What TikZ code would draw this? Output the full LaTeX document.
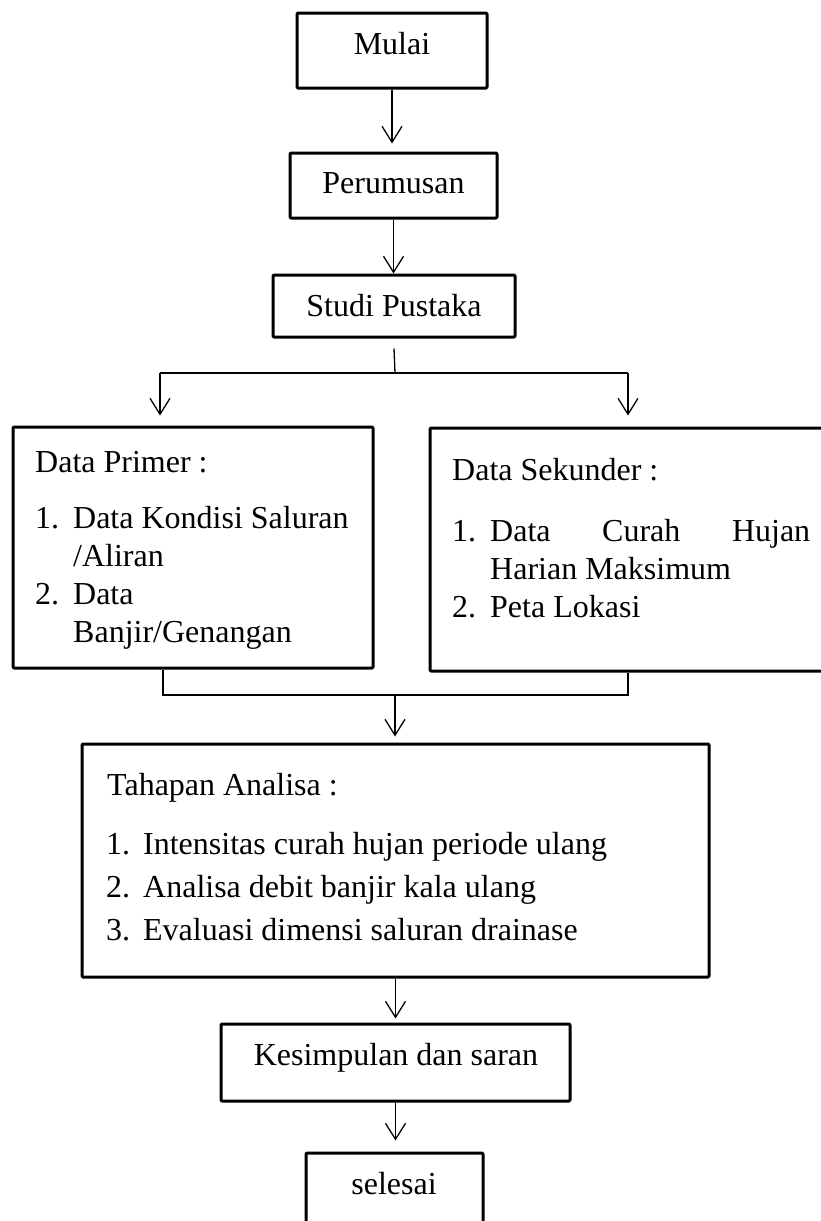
\documentclass[tikz,border=0pt]{standalone}
\usepackage{fontspec}
\setmainfont{Liberation Serif}
\usetikzlibrary{arrows.meta}
\newcommand{\numlab}[1]{\makebox[38pt][l]{#1}}
\begin{document}
\begin{tikzpicture}[x=1pt,y=-1pt,
  box/.style={draw, line width=3pt, rounded corners=1pt, inner sep=0pt, line join=round},
  conn/.style={line width=1.3pt},
  arr/.style={conn, -{Straight Barb[length=16pt,width=20pt]}},
  txt/.style={anchor=base west, inner sep=0pt, font=\fontsize{32}{38}\selectfont},
  ctxt/.style={txt, anchor=base}]
\clip (0,0) rectangle (821,1221);
\fill[white] (0,0) rectangle (821,1221);

% boxes
\node[box, minimum width=190pt, minimum height=75pt] (mulai) at (392,50.5) {};
\node[box, minimum width=207pt, minimum height=65pt] (perumusan) at (393.5,185.5) {};
\node[box, minimum width=242pt, minimum height=62pt] (studi) at (394,306) {};
\node[box, minimum width=360pt, minimum height=241pt] (primer) at (193,547.5) {};
\node[box, minimum width=410pt, minimum height=243pt] (sekunder) at (635,549.5) {};
\node[box, minimum width=627pt, minimum height=233pt] (tahapan) at (395.5,860.5) {};
\node[box, minimum width=349pt, minimum height=77pt] (kesimpulan) at (395.5,1062.5) {};
\node[box, minimum width=177pt, minimum height=97pt] (selesai) at (394.5,1201.5) {};

% texts
\node[ctxt] (t-mulai) at (392,54) {Mulai};
\node[ctxt] (t-perumusan) at (393.5,193) {Perumusan};
\node[ctxt] (t-studi) at (394,316) {Studi Pustaka};
\node[ctxt] (t-kesimpulan) at (396,1065) {Kesimpulan dan saran};
\node[ctxt] (t-selesai) at (394,1194) {selesai};

\node[txt] (p0) at (35,472) {Data Primer :};
\node[txt] (p1) at (35,528) {\numlab{1.}Data Kondisi Saluran};
\node[txt] (p2) at (73,566) {/Aliran};
\node[txt] (p3) at (35,604) {\numlab{2.}Data};
\node[txt] (p4) at (73,642) {Banjir/Genangan};

\node[txt] (s0) at (452,480) {Data Sekunder :};
\node[txt] (s1) at (452,541) {\numlab{1.}\hbox to 320pt{Data\hfill Curah\hfill Hujan}};
\node[txt] (s2) at (490,579) {Harian Maksimum};
\node[txt] (s3) at (452,617) {\numlab{2.}Peta Lokasi};

\node[txt] (a0) at (107,795) {Tahapan Analisa :};
\node[txt] (a1) at (106,854) {\makebox[37pt][l]{1.}Intensitas curah hujan periode ulang};
\node[txt] (a2) at (106,897) {\makebox[37pt][l]{2.}Analisa debit banjir kala ulang};
\node[txt] (a3) at (106,940) {\makebox[37pt][l]{3.}Evaluasi dimensi saluran drainase};

% connectors
\draw[arr, shorten >=8pt] (mulai.south) -- (mulai.south |- perumusan.north);
\draw[arr] (perumusan.south) -- (perumusan.south |- studi.north);

\coordinate (split) at (395,373);
\coordinate (lt) at (160,373);
\coordinate (rt) at (628,373);
\draw[conn] ([yshift=-10pt]studi.south) -- (split);
\draw[conn] (lt) -- (rt);
\draw[arr, shorten >=10pt] (lt) -- (lt |- primer.north);
\draw[arr, shorten >=11pt] (rt) -- (rt |- sekunder.north);

\coordinate (jl) at (163,695);
\coordinate (jr) at (628,695);
\coordinate (jm) at (395,695);
\draw[conn] (jl |- primer.south) -- (jl) -- (jr) -- (jr |- sekunder.south);
\draw[arr, shorten >=6pt] (jm) -- (jm |- tahapan.north);
\draw[arr, shorten >=4pt] (tahapan.south) -- (tahapan.south |- kesimpulan.north);
\draw[arr, shorten >=11pt] (kesimpulan.south) -- (kesimpulan.south |- selesai.north);
\end{tikzpicture}
\end{document}
